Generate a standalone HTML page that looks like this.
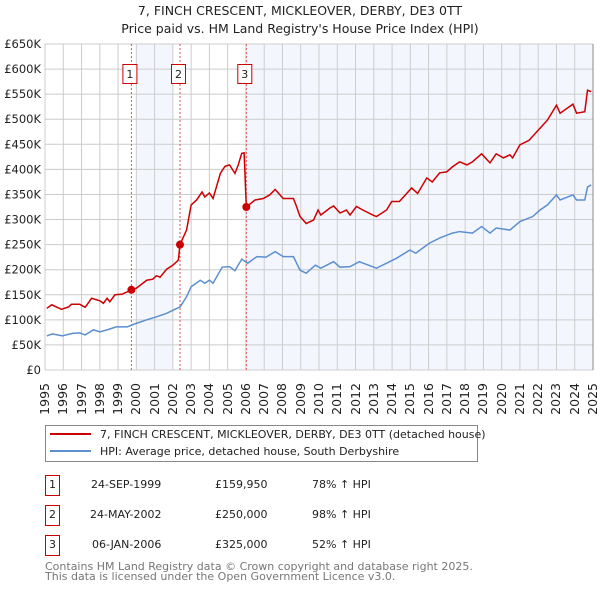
<!DOCTYPE html>
<html><head><meta charset="utf-8"><style>
body{margin:0;background:#fff;font-family:"DejaVu Sans","Liberation Sans",sans-serif;}
#wrap{position:relative;width:600px;height:590px;overflow:hidden}
svg{display:block;position:absolute;left:0;top:0}
.xl{position:absolute;top:383px;width:40px;height:14px;line-height:14px;font-size:12.5px;color:#222;text-align:right;white-space:nowrap;transform-origin:0 0;transform:rotate(-90deg)}
</style></head><body>
<div id="wrap">
<svg id="chart" width="600" height="590" viewBox="0 0 600 590" font-family="DejaVu Sans, Liberation Sans, sans-serif">
<text x="300" y="15" text-anchor="middle" font-size="12.5" fill="#222">7, FINCH CRESCENT, MICKLEOVER, DERBY, DE3 0TT</text>
<text x="300" y="33" text-anchor="middle" font-size="12.5" fill="#222">Price paid vs. HM Land Registry's House Price Index (HPI)</text>
<g id="plot"></g>
<g>
<rect x="45.5" y="425.5" width="432" height="36" fill="#fff" stroke="#888"/>
<line x1="50" y1="434" x2="91" y2="434" stroke="#cc0000" stroke-width="2"/>
<text x="100" y="438" font-size="11" fill="#222">7, FINCH CRESCENT, MICKLEOVER, DERBY, DE3 0TT (detached house)</text>
<line x1="50" y1="451" x2="91" y2="451" stroke="#5b8fd0" stroke-width="2"/>
<text x="100" y="455" font-size="11" fill="#222">HPI: Average price, detached house, South Derbyshire</text>
</g>
<g font-size="11" fill="#222">
<rect x="45.5" y="475.5" width="14" height="20" fill="#fff" stroke="#cc0000"/><text x="52.5" y="488" text-anchor="middle">1</text>
<text x="91" y="488">24-SEP-1999</text><text x="215" y="488">£159,950</text><text x="312" y="488">78% ↑ HPI</text>
<rect x="45.5" y="505.5" width="14" height="20" fill="#fff" stroke="#cc0000"/><text x="52.5" y="518" text-anchor="middle">2</text>
<text x="90" y="518">24-MAY-2002</text><text x="215" y="518">£250,000</text><text x="312" y="518">98% ↑ HPI</text>
<rect x="45.5" y="535.5" width="14" height="20" fill="#fff" stroke="#cc0000"/><text x="52.5" y="548" text-anchor="middle">3</text>
<text x="92" y="548">06-JAN-2006</text><text x="215" y="548">£325,000</text><text x="312" y="548">52% ↑ HPI</text>
</g>
<text x="45" y="570" font-size="11" fill="#777">Contains HM Land Registry data © Crown copyright and database right 2025.</text>
<text x="45" y="580" font-size="11" fill="#777">This data is licensed under the Open Government Licence v3.0.</text>
</svg>
</div>
<script>
const propYears=[1995.1,1995.37,1995.9,1996.3,1996.45,1996.9,1997.2,1997.55,1998.0,1998.2,1998.4,1998.55,1998.83,1999.2,1999.65,1999.73,2000.0,2000.57,2000.9,2001.1,2001.3,2001.66,2002.0,2002.3,2002.39,2002.75,2003.0,2003.3,2003.6,2003.75,2004.0,2004.2,2004.6,2004.85,2005.1,2005.4,2005.58,2005.77,2005.9,2006.02,2006.5,2006.95,2007.3,2007.6,2008.04,2008.6,2008.77,2008.96,2009.3,2009.7,2009.95,2010.1,2010.6,2010.8,2011.15,2011.5,2011.7,2012.05,2012.4,2012.95,2013.15,2013.7,2013.98,2014.4,2014.8,2015.07,2015.4,2015.9,2016.2,2016.6,2016.99,2017.3,2017.7,2018.1,2018.4,2018.9,2019.36,2019.7,2020.1,2020.45,2020.6,2021.0,2021.5,2022.1,2022.5,2023.0,2023.2,2023.9,2024.1,2024.55,2024.7,2024.9];
const propValues=[123,130,121,126,131,131,125,143,138,133,143,136,150,151,158,160,163,179,181,188,185,201,209,219,250,279,329,339,355,345,353,342,392,406,409,392,409,432,433,325,339,342,349,360,342,342,326,306,292,299,319,309,323,327,313,319,309,326,319,309,306,319,336,336,352,363,352,383,375,393,395,405,415,409,415,431,413,431,423,429,423,449,458,482,498,528,512,530,512,515,558,555];
const hpiYears=[1995.1,1995.4,1995.95,1996.5,1996.9,1997.2,1997.65,1998.0,1998.4,1998.9,1999.5,2000.0,2000.57,2001.1,2001.66,2002.4,2002.75,2003.0,2003.5,2003.75,2004.0,2004.2,2004.7,2005.1,2005.4,2005.77,2006.1,2006.6,2007.1,2007.6,2008.04,2008.6,2008.96,2009.3,2009.8,2010.1,2010.8,2011.15,2011.7,2012.2,2013.15,2013.7,2014.25,2014.97,2015.3,2016.05,2016.6,2017.3,2017.7,2018.4,2018.9,2019.36,2019.7,2020.45,2021.0,2021.7,2022.1,2022.5,2023.0,2023.2,2023.9,2024.1,2024.55,2024.7,2024.9];
const hpiValues=[68,72,68,73,74,70,80,76,80,86,86,93,100,106,113,126,146,166,179,173,179,173,205,206,198,221,213,226,225,236,226,226,199,193,209,203,216,205,206,216,203,213,223,239,233,253,263,273,276,273,286,273,283,279,296,306,319,329,349,339,349,339,339,365,369];
const saleLabels=["1","2","3"];
const saleYears=[1999.73,2002.39,2006.02];
const saleValues=[159.95,250,325];
const yTicks=[0,50,100,150,200,250,300,350,400,450,500,550,600,650];
const yTickLabels=["£0","£50K","£100K","£150K","£200K","£250K","£300K","£350K","£400K","£450K","£500K","£550K","£600K","£650K"];
const xTicks=[1995,1996,1997,1998,1999,2000,2001,2002,2003,2004,2005,2006,2007,2008,2009,2010,2011,2012,2013,2014,2015,2016,2017,2018,2019,2020,2021,2022,2023,2024,2025];
const shadeStarts=[2000,2006];
const shadeEnds=[2002,2025];

const L=45,R=593,T=44,B=370,X0=1995,X1=2025,YMAX=650;
const sx=y=>L+(y-X0)/(X1-X0)*(R-L);
const sy=v=>B-v/YMAX*(B-T);
const NS="http://www.w3.org/2000/svg";
const plot=document.getElementById('plot');
const wrap=document.getElementById('wrap');
function mk(tag,attrs,parent){const e=document.createElementNS(NS,tag);for(const k in attrs)e.setAttribute(k,attrs[k]);(parent||plot).appendChild(e);return e;}

for(let i=0;i<shadeStarts.length;i++){
  const r=mk('rect',{x:sx(shadeStarts[i]),y:T,width:sx(shadeEnds[i])-sx(shadeStarts[i]),height:B-T,fill:'#eef3fc',opacity:0.7});
  
  
}
xTicks.forEach(t=>{
  const l=mk('line',{x1:sx(t),x2:sx(t),y1:T,y2:B,stroke:'#cccccc','stroke-width':1});
  
  
  const d=document.createElement('div');
  d.className='xl';
  d.textContent=t;
  d.style.left=(sx(t)-7)+'px';
  d.style.top='423px';
  
  
  wrap.appendChild(d);
});
yTicks.forEach((t,i)=>{
  const l=mk('line',{x1:L,x2:R,y1:sy(t),y2:sy(t),stroke:'#cccccc','stroke-width':1});
  
  
  const tx=mk('text',{x:41,y:sy(t)+4,'font-size':11.5,fill:'#222','text-anchor':'end'});
  tx.textContent=yTickLabels[i];
  
  
});
const ax=mk('line',{x1:R,x2:R,y1:T,y2:B,stroke:'#888','stroke-width':1});



saleYears.forEach((y,i)=>{
  const l=mk('line',{x1:sx(y),x2:sx(y),y1:T,y2:B,stroke:'#e05050','stroke-width':1,'stroke-dasharray':'2,2'});
  
  
});
const hp=mk('polyline',{points:hpiYears.map((y,i)=>sx(y)+','+sy(hpiValues[i])).join(' '),fill:'none',stroke:'#5b8fd0','stroke-width':1.5});


const pp=mk('polyline',{points:propYears.map((y,i)=>sx(y)+','+sy(propValues[i])).join(' '),fill:'none',stroke:'#cc0000','stroke-width':1.5});


saleYears.forEach((y,i)=>{
  const c=mk('circle',{cx:sx(y),cy:sy(saleValues[i]),r:4,fill:'#cc0000'});
  
  
  const bx=sx(y)-8;
  const r=mk('rect',{x:bx-0.5,y:64.5,width:14,height:19,fill:'#fff',stroke:'#cc0000'});
  
  
  const t=mk('text',{x:bx+6.5,y:78,'font-size':11,fill:'#222','text-anchor':'middle'});
  t.textContent=saleLabels[i];
  
  
});
</script>
</body></html>
